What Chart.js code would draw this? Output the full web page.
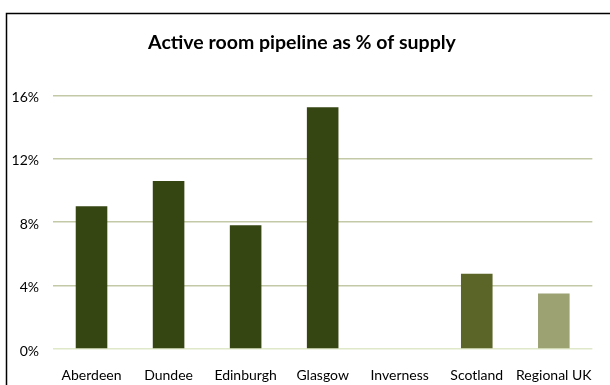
<!DOCTYPE html>
<html>
<head>
<meta charset="utf-8">
<script src="https://cdn.jsdelivr.net/npm/chart.js@4/dist/chart.umd.min.js"></script>
<style>
  html, body { margin: 0; padding: 0; background: #ffffff; }
  #wrap { width: 610px; height: 385px; position: relative; }
</style>
</head>
<body>
<div id="wrap"><canvas id="chart" width="610" height="385"></canvas></div>
<script>
var categories = ['Aberdeen', 'Dundee', 'Edinburgh', 'Glasgow', 'Inverness', 'Scotland', 'Regional UK'];
var pipelinePct = [9.0, 10.6, 7.8, 15.25, 0, 4.75, 3.5];
var barColors = ['#364612', '#364612', '#364612', '#364612', '#364612', '#5b6527', '#9ca272'];
var yTicks = [0, 4, 8, 12, 16];

var FONT = 'Lato, "Liberation Sans", sans-serif';

// black frame of the original chart box (only left and top edges are visible)
var framePlugin = {
  id: 'frame',
  beforeDraw: function (chart) {
    var ctx = chart.ctx;
    ctx.save();
    ctx.fillStyle = '#ffffff';
    ctx.fillRect(0, 0, chart.width, chart.height);
    ctx.strokeStyle = '#000000';
    ctx.lineWidth = 1.5;
    ctx.beginPath();
    ctx.moveTo(6.5, chart.height);
    ctx.lineTo(6.5, 13.5);
    ctx.lineTo(chart.width, 13.5);
    ctx.stroke();
    ctx.restore();
  }
};

new Chart(document.getElementById('chart'), {
  type: 'bar',
  data: {
    labels: categories,
    datasets: [{
      label: 'Active room pipeline',
      data: pipelinePct,
      backgroundColor: barColors,
      borderWidth: 0,
      barPercentage: 0.41,
      categoryPercentage: 1
    }]
  },
  options: {
    responsive: false,
    animation: false,
    layout: { padding: { left: 0, right: 6, top: 0, bottom: 0 } },
    plugins: {
      legend: { display: false },
      tooltip: { enabled: false },
      title: {
        display: true,
        text: 'Active room pipeline as % of supply',
        color: '#000000',
        font: { family: FONT, size: 19.5, weight: 'bold' },
        padding: { top: 31, bottom: 41 }
      }
    },
    scales: {
      x: {
        grid: { display: false, drawTicks: false },
        border: { display: false },
        ticks: {
          color: '#000000',
          font: { family: FONT, size: 14 },
          padding: 18,
          maxRotation: 0,
          autoSkip: false
        },
        afterFit: function (scale) { scale.height = 36; }
      },
      y: {
        min: 0,
        max: 16,
        afterBuildTicks: function (scale) {
          scale.ticks = yTicks.map(function (v) { return { value: v }; });
        },
        grid: {
          drawTicks: false,
          lineWidth: 1.5,
          color: function (ctx) {
            return ctx.tick && ctx.tick.value === 0 ? '#dfe8c8' : '#c3c9a6';
          }
        },
        border: { display: false },
        ticks: {
          color: '#000000',
          font: { family: FONT, size: 14 },
          padding: 14,
          labelOffset: 2,
          callback: function (v) { return v + '%'; }
        },
        afterFit: function (scale) { scale.width = 53; }
      }
    }
  },
  plugins: [framePlugin]
});
</script>
</body>
</html>
